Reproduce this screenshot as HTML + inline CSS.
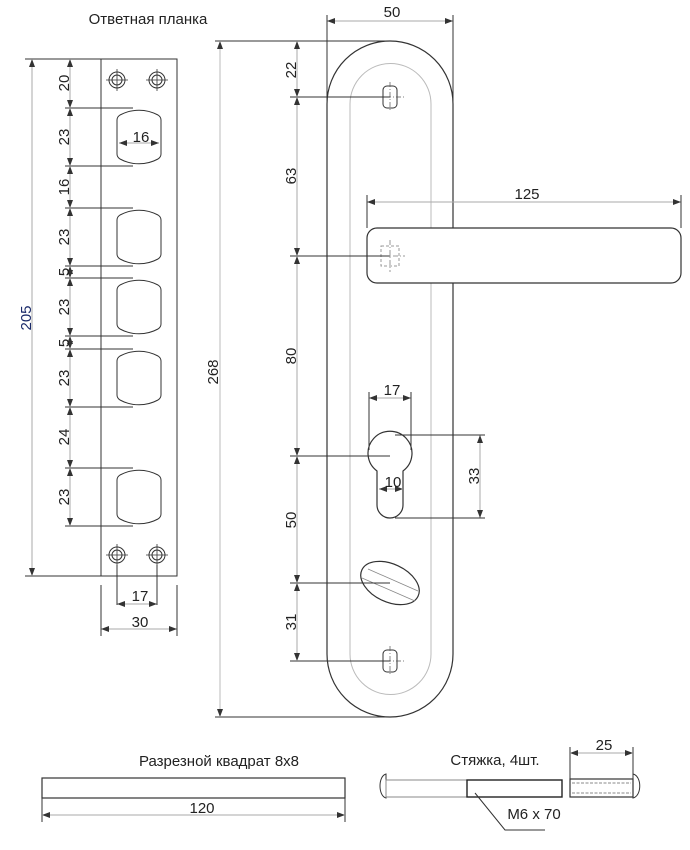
<!DOCTYPE html>
<html><head><meta charset="utf-8"><style>
html,body{margin:0;padding:0;background:#fff}
svg{display:block}
text{font-family:"Liberation Sans",sans-serif;font-size:15px;fill:#222}
</style></head><body>
<svg width="690" height="850" viewBox="0 0 690 850" xmlns="http://www.w3.org/2000/svg">
<defs>
<marker id="a" viewBox="0 0 8 6" refX="8" refY="3" markerWidth="8" markerHeight="6" orient="auto-start-reverse" markerUnits="userSpaceOnUse"><path d="M0,0L8,3L0,6Z" fill="#333"/></marker>
<g id="hole"><circle r="8" fill="none" stroke="#333" stroke-width="1"/><circle r="5" fill="none" stroke="#333" stroke-width="1"/><path d="M-11,0H11M0,-11V11" stroke="#333" stroke-width="0.8"/></g>
<path id="slot" d="M0,12 Q0,9 3,7 A40,40 0 0 1 41,7 Q44,9 44,12 L44,46 Q44,49 41,51 A40,40 0 0 1 3,51 Q0,49 0,46 Z" fill="none" stroke="#333" stroke-width="1"/>
</defs>

<!-- Strike plate -->
<text x="148" y="24" text-anchor="middle">Ответная планка</text>
<rect x="101" y="59" width="76" height="517" fill="none" stroke="#333" stroke-width="1"/>
<line x1="25" y1="59" x2="101" y2="59" stroke="#333"/>
<line x1="25" y1="576" x2="101" y2="576" stroke="#333"/>
<use href="#hole" x="117" y="80"/><use href="#hole" x="157" y="80"/>
<use href="#hole" x="117" y="555"/><use href="#hole" x="157" y="555"/>
<use href="#slot" x="117" y="108"/><use href="#slot" x="117" y="208"/>
<use href="#slot" x="117" y="278"/><use href="#slot" x="117" y="349"/>
<use href="#slot" x="117" y="468"/>
<g stroke="#333" stroke-width="1">
<path d="M65,108H133M65,166H133M65,208H133M65,266H133M65,278H133M65,336H133M65,349H133M65,407H133M65,468H133M65,526H133"/>
</g>
<g stroke="#aaa" stroke-width="1" marker-start="url(#a)" marker-end="url(#a)">
<line x1="70" y1="59" x2="70" y2="108"/><line x1="70" y1="108" x2="70" y2="166"/>
<line x1="70" y1="166" x2="70" y2="208"/><line x1="70" y1="208" x2="70" y2="266"/>
<line x1="70" y1="266" x2="70" y2="278"/><line x1="70" y1="278" x2="70" y2="336"/>
<line x1="70" y1="336" x2="70" y2="349"/><line x1="70" y1="349" x2="70" y2="407"/>
<line x1="70" y1="407" x2="70" y2="468"/><line x1="70" y1="468" x2="70" y2="526"/>
<line x1="32" y1="59" x2="32" y2="576"/>
<line x1="119" y1="143" x2="159" y2="143"/>
<line x1="117" y1="604" x2="157" y2="604"/>
<line x1="101" y1="629" x2="177" y2="629"/>
</g>
<g stroke="#333" stroke-width="1"><path d="M117,565V605M157,565V605M101,585V636M177,585V636"/></g>
<g text-anchor="middle">
<text transform="translate(69,83) rotate(-90)">20</text>
<text transform="translate(69,137) rotate(-90)">23</text>
<text transform="translate(69,187) rotate(-90)">16</text>
<text transform="translate(69,237) rotate(-90)">23</text>
<text transform="translate(69,272) rotate(-90)">5</text>
<text transform="translate(69,307) rotate(-90)">23</text>
<text transform="translate(69,343) rotate(-90)">5</text>
<text transform="translate(69,378) rotate(-90)">23</text>
<text transform="translate(69,437) rotate(-90)">24</text>
<text transform="translate(69,497) rotate(-90)">23</text>
<text transform="translate(31,318) rotate(-90)" style="fill:#1a2a6a">205</text>
<text x="141" y="142">16</text>
<text x="140" y="601">17</text>
<text x="140" y="627">30</text>
</g>

<!-- Handle plate -->
<line x1="215" y1="41" x2="390" y2="41" stroke="#333"/>
<line x1="215" y1="717" x2="390" y2="717" stroke="#333"/>
<line x1="220" y1="41" x2="220" y2="717" stroke="#bbb" marker-start="url(#a)" marker-end="url(#a)"/>
<text transform="translate(218,372) rotate(-90)" text-anchor="middle">268</text>

<path d="M327,104 A63,63 0 0 1 453,104 L453,654 A63,63 0 0 1 327,654 Z" fill="none" stroke="#333" stroke-width="1.2"/>
<path d="M350,104 A40.5,40.5 0 0 1 431,104 L431,654 A40.5,40.5 0 0 1 350,654 Z" fill="none" stroke="#bbb" stroke-width="1"/>
<rect x="367" y="228" width="314" height="55" rx="10" fill="#fff" stroke="#333" stroke-width="1.2"/>
<rect x="381" y="246" width="18" height="20" fill="none" stroke="#999" stroke-dasharray="3,2"/>
<path d="M373,256H405M390,240V272" stroke="#999" stroke-dasharray="5,2,1,2"/>
<rect x="383" y="86" width="14" height="22" rx="4" fill="none" stroke="#333"/>
<rect x="383" y="650" width="14" height="22" rx="4" fill="none" stroke="#333"/>
<path d="M376,97H406M390,82V112M376,661H406M390,646V676" stroke="#555" stroke-width="0.7" stroke-dasharray="5,2,1,2"/>
<path d="M377,471 A22,22 0 1 1 403,471 L403,505 A13,13 0 0 1 377,505 Z" fill="#fff" stroke="#333" stroke-width="1.2"/>
<ellipse cx="390" cy="583" rx="31" ry="19" transform="rotate(25 390 583)" fill="none" stroke="#333" stroke-width="1.2"/>
<path d="M368,569L418,591M362,578L415,601" stroke="#888" stroke-width="0.8"/>

<g stroke="#333" stroke-width="1"><path d="M290,97H390M290,256H390M290,456H390M290,583H390M290,661H390"/></g>
<g stroke="#aaa" marker-start="url(#a)" marker-end="url(#a)">
<line x1="297" y1="41" x2="297" y2="97"/><line x1="297" y1="97" x2="297" y2="256"/>
<line x1="297" y1="256" x2="297" y2="456"/><line x1="297" y1="456" x2="297" y2="583"/>
<line x1="297" y1="583" x2="297" y2="661"/>
<line x1="327" y1="21" x2="453" y2="21"/>
<line x1="367" y1="202" x2="681" y2="202"/>
<line x1="369" y1="398" x2="411" y2="398"/>
<line x1="379" y1="489" x2="403" y2="489"/>
<line x1="480" y1="435" x2="480" y2="518"/>
</g>
<g stroke="#333" stroke-width="1"><path d="M327,15V104M453,15V104M367,195V228M681,195V228M369,392V450M411,392V450M395,435H485M395,518H485"/></g>
<g text-anchor="middle">
<text transform="translate(296,70) rotate(-90)">22</text>
<text transform="translate(296,176) rotate(-90)">63</text>
<text transform="translate(296,356) rotate(-90)">80</text>
<text transform="translate(296,520) rotate(-90)">50</text>
<text transform="translate(296,622) rotate(-90)">31</text>
<text transform="translate(479,476) rotate(-90)">33</text>
<text x="392" y="17">50</text>
<text x="527" y="199">125</text>
<text x="392" y="395">17</text>
<text x="393" y="487">10</text>
</g>

<text x="219" y="766" text-anchor="middle">Разрезной квадрат 8x8</text>
<rect x="42" y="778" width="303" height="20" fill="none" stroke="#333" stroke-width="1.2"/>
<path d="M42,798V822M345,798V822" stroke="#333"/>
<line x1="42" y1="815" x2="345" y2="815" stroke="#aaa" marker-start="url(#a)" marker-end="url(#a)"/>
<text x="202" y="813" text-anchor="middle">120</text>

<text x="495" y="765" text-anchor="middle">Стяжка, 4шт.</text>
<path d="M386,774 C378,776 378,796 386,798 Z" fill="none" stroke="#333"/>
<rect x="386" y="780" width="81" height="17" fill="none" stroke="#888"/>
<rect x="467" y="780" width="95" height="17" fill="none" stroke="#222" stroke-width="1.4"/>
<path d="M475,793L505,830H545" fill="none" stroke="#333"/>
<text x="534" y="819" text-anchor="middle">M6 x 70</text>
<rect x="570" y="779" width="63" height="18" fill="none" stroke="#333" stroke-width="1.2"/>
<path d="M572,783H631M572,793H631" stroke="#888" stroke-dasharray="3,1.5"/>
<path d="M633,774 C642,776 642,796 633,798 Z" fill="none" stroke="#333"/>
<path d="M570,747V779M633,747V779" stroke="#333"/>
<line x1="570" y1="753" x2="633" y2="753" stroke="#aaa" marker-start="url(#a)" marker-end="url(#a)"/>
<text x="604" y="750" text-anchor="middle">25</text>
</svg>
</body></html>
